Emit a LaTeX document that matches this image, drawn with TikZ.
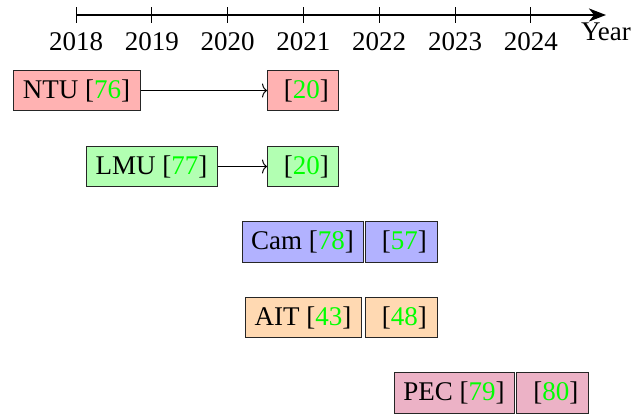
\documentclass[tikz,border=0pt]{standalone}
\usepackage{fontspec}
\setmainfont{Liberation Serif}
\usetikzlibrary{arrows.meta}
\begin{document}
\begin{tikzpicture}[x=1pt,y=-1pt,
  every node/.style={font=\fontsize{27}{32}\selectfont},
  box/.style={draw=black!85,line width=1pt,minimum height=40.5pt,inner xsep=0pt,inner ysep=0pt,anchor=center},
  link/.style={-{To[length=5pt,width=14pt,line width=1pt]},line width=1pt}]
\useasboundingbox (0,0) rectangle (643,413);
% axis
\draw[line width=2.4pt,-{Stealth[length=17pt,width=13pt,inset=5pt]}] (76,15) -- (606,15);
\foreach \yr [count=\i from 0] in {2018,...,2024}{
  \coordinate (t\i) at ({76+75.8*\i},23);
  \draw[line width=1pt] ({76+75.8*\i},7) -- (t\i);
  \node[below,inner sep=9pt] (l\i) at (t\i) {\yr};
}
\node[below,inner sep=8pt] (year) at (606,15) {Year};
% boxes
\node[box,fill=red!30,minimum width=127pt] (ntu) at (76.5,90.5) {NTU [{\color{green}76}]};
\node[box,fill=red!30,minimum width=71pt] (ntu2) at (303,90.5) {\ [{\color{green}20}]};
\draw[link] (ntu) -- (ntu2);
\node[box,fill=green!30,minimum width=131pt] (lmu) at (151.5,166.5) {LMU [{\color{green}77}]};
\node[box,fill=green!30,minimum width=71pt] (lmu2) at (303,166.5) {\ [{\color{green}20}]};
\draw[link] (lmu) -- (lmu2);
\node[box,fill=blue!30,minimum width=121pt] (cam) at (302.5,242) {Cam [{\color{green}78}]};
\node[box,fill=blue!30,minimum width=72pt] (cam2) at (401,242) {\ [{\color{green}57}]};
\node[box,fill=orange!30,minimum width=116pt] (ait) at (303,317.5) {AIT [{\color{green}43}]};
\node[box,fill=orange!30,minimum width=72pt] (ait2) at (401,317.5) {\ [{\color{green}48}]};
\node[box,fill=purple!30,minimum width=120pt] (pec) at (454,393) {PEC [{\color{green}79}]};
\node[box,fill=purple!30,minimum width=72pt] (pec2) at (552.5,393) {\ [{\color{green}80}]};
\end{tikzpicture}
\end{document}
